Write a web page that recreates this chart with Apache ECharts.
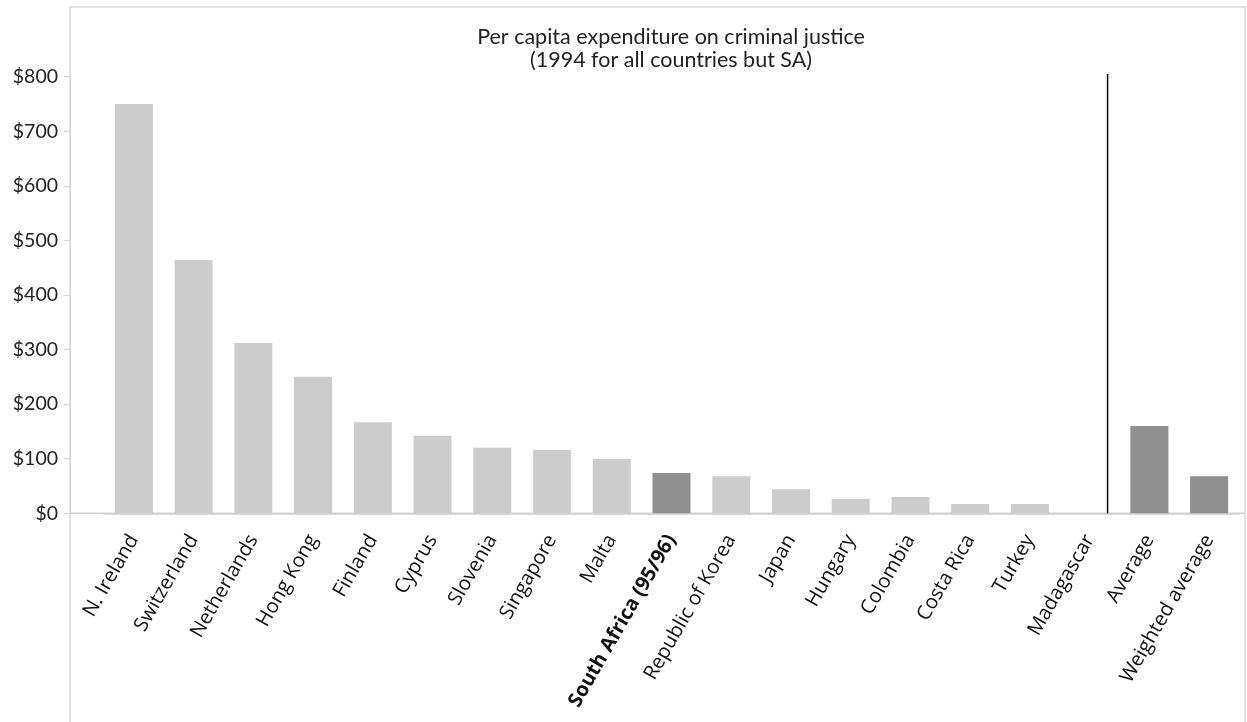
<!DOCTYPE html>
<html>
<head>
<meta charset="utf-8">
<script src="https://cdn.jsdelivr.net/npm/echarts@6/dist/echarts.min.js"></script>
<style>
html,body{margin:0;padding:0;background:#fff;}
#chart{width:1247px;height:722px;}
</style>
</head>
<body>
<div id="chart"></div>
<script>
// ---- data ----
const categories = ['N. Ireland','Switzerland','Netherlands','Hong Kong','Finland','Cyprus','Slovenia','Singapore','Malta','South Africa (95/96)','Republic of Korea','Japan','Hungary','Colombia','Costa Rica','Turkey','Madagascar','Average','Weighted average'];
const values = [750,464,312,250,167,142,120,116,100,74,68,44,26,30,17,17,0,160,68];
const highlighted = ['South Africa (95/96)','Average','Weighted average'];
const boldLabels = ['South Africa (95/96)'];
const yTicks = [0,100,200,300,400,500,600,700,800];
const dividerX = 16.3;      // position between Madagascar and Average (category units)
const dividerTop = 805;     // top of the divider line (value units)
const titleLines = ['Per capita expenditure on criminal justice','(1994 for all countries but SA)'];

// ---- styles ----
const LIGHT = '#cccccc', DARK = '#8f8f8f', BORDER = '#d9d9d9';

const chart = echarts.init(document.getElementById('chart'), null, {renderer:'canvas'});
const option = {
  animation:false,
  backgroundColor:'#fff',
  title:{
    text:titleLines.join('\n'),
    left:666, top:21, textAlign:'center',
    textStyle:{fontFamily:'Lato', fontSize:21.5, fontWeight:'normal', color:'#222', lineHeight:23}
  },
  grid:{left:104, right:8, top:76.7, bottom:722-513.3, containLabel:false},
  xAxis:[{
    type:'category', data:categories, boundaryGap:true,
    axisLine:{show:true, lineStyle:{color:'#d0d0d0', width:1.5}},
    axisTick:{show:false},
    axisLabel:{
      interval:0, rotate:60, margin:23,
      fontFamily:'Open Sans', fontSize:20, color:'#111',
      formatter:function(v){ return boldLabels.indexOf(v)>=0 ? '{b|'+v+'}' : v; },
      rich:{b:{fontFamily:'Open Sans', fontSize:20, fontWeight:'bold', color:'#111'}}
    }
  },{
    type:'value', min:-0.5, max:categories.length-0.5, show:false
  }],
  yAxis:{
    type:'value', min:yTicks[0], max:yTicks[yTicks.length-1], interval:100,
    offset:34,
    axisLine:{show:true, onZero:false, lineStyle:{color:BORDER}},
    axisTick:{show:true, length:6, lineStyle:{color:BORDER}},
    splitLine:{show:false},
    axisLabel:{fontFamily:'Lato', fontSize:19.5, color:'#222', margin:12, formatter:v=>'$'+v}
  },
  series:[{
    type:'bar', xAxisIndex:0, barWidth:38,
    data:values.map((v,i)=>({value:v, itemStyle:{color: highlighted.indexOf(categories[i])>=0 ? DARK : LIGHT}}))
  },{
    type:'line', xAxisIndex:1, symbol:'none', clip:false,
    lineStyle:{color:'#000', width:1.5},
    data:[[dividerX,0],[dividerX,dividerTop]]
  }]
};
chart.setOption(option);

// frame and extended baseline
const p0 = chart.convertToPixel({xAxisIndex:0, yAxisIndex:0}, [categories[0], 0]);
const gridRect = chart.getModel().getComponent('grid').coordinateSystem.getRect();
const frameLeft = gridRect.x - 34, frameRight = 1245, frameTop = 7;
chart.setOption({
  graphic:[
    {type:'rect', shape:{x:frameLeft, y:frameTop, width:frameRight-frameLeft, height:760}, style:{fill:'none', stroke:BORDER, lineWidth:1.5}, silent:true, z:-1},
    {type:'line', shape:{x1:frameLeft, y1:p0[1], x2:frameRight, y2:p0[1]}, style:{stroke:'#d0d0d0', lineWidth:1.5}, silent:true, z:0}
  ]
});
</script>
</body>
</html>
